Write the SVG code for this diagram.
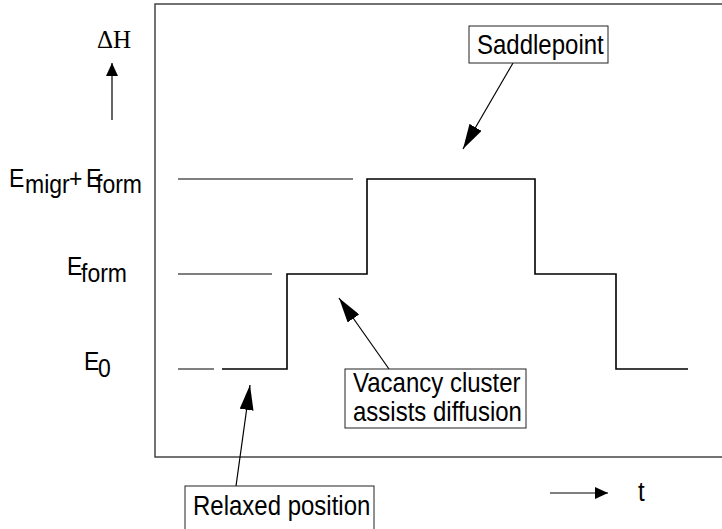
<svg xmlns="http://www.w3.org/2000/svg" width="722" height="529" viewBox="0 0 722 529">
<style>
.t{font-family:"Liberation Sans",Arial,sans-serif;font-size:24px;fill:#000}
.lab{font-family:"Liberation Sans",Arial,sans-serif;font-size:23px;fill:#000}
.box{fill:#fff;stroke:#222;stroke-width:1}
.ln{stroke:#000;stroke-width:1.2;fill:none}
.step{stroke:#000;stroke-width:1.6;fill:none}
.frame{stroke:#444;stroke-width:1.5;fill:none}
</style>
<defs>
<marker id="big" markerUnits="userSpaceOnUse" markerWidth="26" markerHeight="14" refX="25" refY="7" orient="auto">
<path d="M0,0 L25,7 L0,14 z" fill="#000"/>
</marker>
<marker id="small" markerUnits="userSpaceOnUse" markerWidth="14" markerHeight="12" refX="13" refY="6" orient="auto">
<path d="M0,0 L13,6 L0,12 z" fill="#000"/>
</marker>
</defs>
<rect width="722" height="529" fill="#fff"/>
<g id="frame">
<path class="frame" d="M722,4 H155 V457 H722"/>
</g>
<g id="axis-y">
<text x="97" y="48" font-family="'Liberation Serif','Times New Roman',serif" font-size="25">ΔH</text>
<line class="ln" x1="112" y1="120" x2="112" y2="63" marker-end="url(#small)"/>
</g>
<g id="axis-t">
<line class="ln" x1="550" y1="493" x2="608" y2="493" marker-end="url(#small)"/>
<text class="t" transform="translate(638,501) scale(1,1.12)">t</text>
</g>
<g id="labels">
<text class="lab" transform="translate(9,187) scale(1,1.15)">E</text>
<text class="lab" transform="translate(25,193) scale(1,1.15)">migr</text>
<text class="lab" transform="translate(69,187) scale(1,1.15)">+</text>
<text class="lab" transform="translate(86,187) scale(1,1.15)">E</text>
<text class="lab" transform="translate(96,193) scale(1,1.15)">form</text>
<text class="lab" transform="translate(67,275) scale(1,1.15)">E</text>
<text class="lab" transform="translate(81,282) scale(1,1.15)">form</text>
<text class="lab" transform="translate(84,370) scale(1,1.15)">E</text>
<text class="lab" transform="translate(98,377) scale(1,1.15)">0</text>
</g>
<g id="levels">
<line class="ln" x1="178" y1="179" x2="353" y2="179"/>
<line class="ln" x1="178" y1="274" x2="272" y2="274"/>
<line class="ln" x1="178" y1="369" x2="214" y2="369"/>
</g>
<g id="energy-path">
<path class="step" d="M222,369 H287 V274 H367 V179 H535 V274 H616 V369 H688"/>
</g>
<g id="connectors">
<line class="ln" x1="513" y1="63" x2="463" y2="149" marker-end="url(#big)"/>
<line class="ln" x1="389" y1="369" x2="339" y2="298" marker-end="url(#big)"/>
<line class="ln" x1="236" y1="486" x2="250" y2="385" marker-end="url(#big)"/>
</g>
<g id="saddlepoint">
<rect class="box" x="469" y="26" width="139" height="37"/>
<text class="t" transform="translate(477,54) scale(1,1.12)">Saddlepoint</text>
</g>
<g id="vacancy">
<rect class="box" x="345" y="369" width="181" height="59"/>
<text class="t" transform="translate(353,392) scale(1,1.12)">Vacancy cluster</text>
<text class="t" transform="translate(353,421) scale(1,1.12)">assists diffusion</text>
</g>
<g id="relaxed">
<rect class="box" x="185" y="486" width="189" height="50"/>
<text class="t" transform="translate(193,515) scale(1,1.12)">Relaxed position</text>
</g>
</svg>
